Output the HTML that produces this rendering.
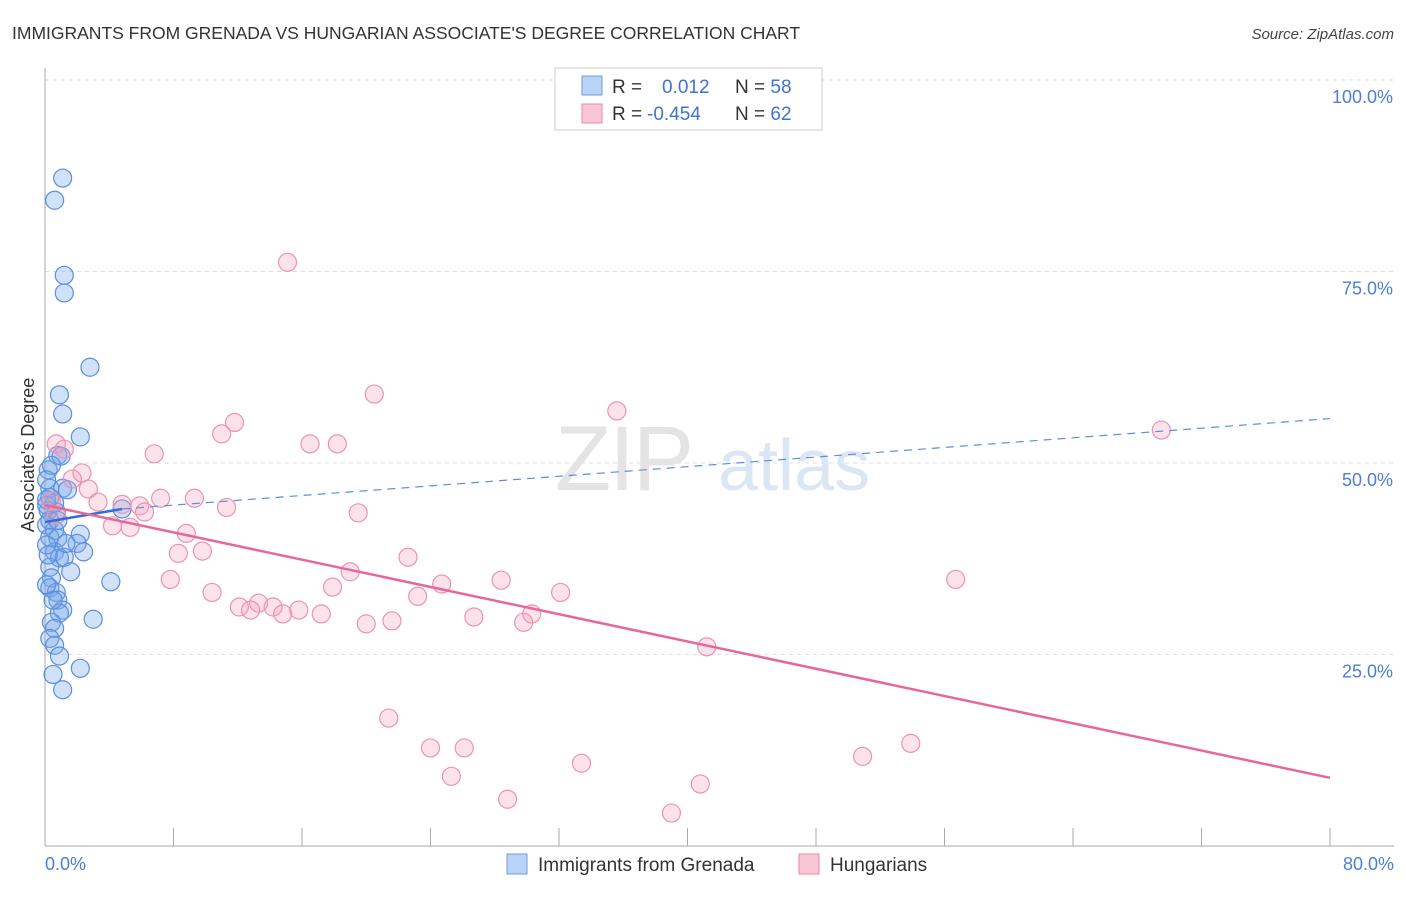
<!DOCTYPE html>
<html><head><meta charset="utf-8"><style>
body{margin:0;background:#fff;font-family:"Liberation Sans",sans-serif}
svg text{font-family:"Liberation Sans",sans-serif}
</style></head><body>
<svg id="c" width="1406" height="892" viewBox="0 0 1406 892">
<text x="12" y="39" font-size="17.5" fill="#333">IMMIGRANTS FROM GRENADA VS HUNGARIAN ASSOCIATE'S DEGREE CORRELATION CHART</text>
<text x="1394" y="39" font-size="15" fill="#444" font-style="italic" text-anchor="end">Source: ZipAtlas.com</text>
<g id="grid"></g>
<g><text x="555" y="490" font-size="92" fill="#e4e4e4" font-family="Liberation Serif" letter-spacing="-2">ZIP</text><text x="718" y="490" font-size="72" fill="#dbe6f4">atlas</text></g>
<line x1="45" y1="68" x2="45" y2="846" stroke="#aaa"/>
<line x1="45" y1="846" x2="1394" y2="846" stroke="#aaa"/>
<g id="ticks"></g>
<g id="ylabels"></g>
<text x="45" y="870" font-size="18" fill="#4a7fd4">0.0%</text>
<text x="1394" y="870" font-size="18" fill="#4a7fd4" text-anchor="end">80.0%</text>
<text transform="translate(34,455) rotate(-90)" font-size="18" fill="#333" text-anchor="middle">Associate's Degree</text>
<g id="pts"></g>
<g id="lines"></g>
<g>
<rect x="555" y="68" width="267" height="62" fill="#fff" stroke="#ccc"/>
<rect x="582" y="76" width="20" height="19" fill="#b9d3f5" stroke="#6a9be0"/>
<rect x="582" y="104" width="20" height="19" fill="#f9c6d5" stroke="#e88aa8"/>
<text x="612" y="93" font-size="19" fill="#333">R = <tspan x="662" fill="#3d74d0">0.012</tspan><tspan x="735">N = </tspan><tspan fill="#3d74d0">58</tspan></text>
<text x="612" y="120" font-size="19" fill="#333">R = <tspan x="647" fill="#3d74d0">-0.454</tspan><tspan x="735">N = </tspan><tspan fill="#3d74d0">62</tspan></text>
</g>
<g>
<rect x="507" y="854" width="20" height="20" fill="#b9d3f5" stroke="#6a9be0"/>
<text x="538" y="871" font-size="19" fill="#333">Immigrants from Grenada</text>
<rect x="799" y="854" width="20" height="20" fill="#f9c6d5" stroke="#e88aa8"/>
<text x="830" y="871" font-size="19" fill="#333">Hungarians</text>
</g>
</svg>
<script>
const yTicks=[25,50,75,100];
const yTickLabels=["25.0%","50.0%","75.0%","100.0%"];
const xTicks=[0,8,16,24,32,40,48,56,64,72,80];
const blueX=[1.1,0.6,1.2,1.2,2.8,0.9,1.1,2.2,0.8,1.0,0.2,0.3,1.1,1.4,0.3,0.6,0.2,0.7,4.8,0.3,0.1,0.6,0.3,0.8,2.2,2.0,0.6,2.4,0.9,1.2,0.3,1.6,0.4,4.1,0.3,0.7,0.8,1.1,0.9,3.0,0.4,0.6,0.3,0.6,0.9,2.2,0.5,1.1,0.1,0.1,0.4,0.1,0.2,0.5,0.1,0.8,1.3,0.1];
const blueY=[87.2,84.3,74.5,72.2,62.5,58.9,56.4,53.4,51.0,50.9,49.1,46.7,46.7,46.5,45.5,44.8,43.8,43.6,44.0,42.5,41.9,41.2,40.3,40.2,40.7,39.5,38.4,38.4,37.6,37.7,36.4,35.8,35.0,34.5,33.7,33.1,32.1,30.8,30.4,29.6,29.2,28.4,27.1,26.2,24.8,23.2,22.4,20.4,39.3,44.5,49.7,47.8,38.0,32.1,45.2,42.5,39.5,34.1];
const pinkX=[15.1,20.5,35.6,69.5,11.8,11.0,16.5,18.2,0.7,1.2,6.8,2.3,1.7,2.7,3.3,0.7,4.8,7.2,9.3,5.9,6.2,11.3,4.2,5.3,8.8,19.5,8.3,9.8,22.6,7.8,19.0,17.9,24.7,28.4,56.7,10.4,32.1,23.2,12.1,13.3,14.2,12.8,14.8,15.8,17.2,26.7,30.3,20.0,21.6,29.8,41.2,21.4,24.0,26.1,53.9,50.9,33.4,25.3,28.8,40.8,39.0,0.4];
const pinkY=[76.2,59.0,56.8,54.3,55.3,53.8,52.5,52.5,52.5,51.8,51.2,48.7,47.9,46.6,44.9,43.2,44.6,45.4,45.4,44.4,43.6,44.2,41.8,41.6,40.8,43.5,38.2,38.5,37.7,34.8,35.8,33.8,34.2,34.7,34.8,33.1,33.1,32.6,31.2,31.7,31.2,30.8,30.3,30.8,30.3,29.9,30.3,29.0,29.4,29.2,26.0,16.7,12.8,12.8,13.4,11.7,10.8,9.1,6.1,8.1,4.3,45.0];
const blueTrend=[[0,42.3],[4.8,44.0],[80,55.8]];
const pinkTrend=[[0,44.5],[80,8.9]];
const X=v=>45+v/80*1285, Y=v=>846-v/100*766;
const NS="http://www.w3.org/2000/svg";
function mk(t,a,p){const e=document.createElementNS(NS,t);for(const k in a)e.setAttribute(k,a[k]);document.getElementById(p).appendChild(e);return e;}
yTicks.forEach((t,i)=>{
 const l=mk('line',{x1:45,x2:1394,y1:Y(t),y2:Y(t),stroke:'#ddd','stroke-dasharray':'4,4'},'grid');
 
 
 const tx=mk('text',{x:1393,y:Y(t)+23,'font-size':18,fill:'#4a7fd4','text-anchor':'end'},'ylabels');
 tx.textContent=yTickLabels[i];
 
 
});
xTicks.forEach(t=>{
 const l=mk('line',{x1:X(t),x2:X(t),y1:828,y2:846,stroke:'#aaa'},'ticks');
 
 
});
blueX.forEach((v,i)=>{
 const c=mk('circle',{cx:X(v),cy:Y(blueY[i]),r:9,fill:'rgba(120,170,235,0.35)',stroke:'#5b8fdc','stroke-width':1.2},'pts');
 
 
});
pinkX.forEach((v,i)=>{
 const c=mk('circle',{cx:X(v),cy:Y(pinkY[i]),r:9,fill:'rgba(245,160,190,0.3)',stroke:'#ec93b0','stroke-width':1.2},'pts');
 
 
});
let b1=mk('line',{x1:X(blueTrend[0][0]),y1:Y(blueTrend[0][1]),x2:X(blueTrend[1][0]),y2:Y(blueTrend[1][1]),stroke:'#2f6fd6','stroke-width':2.5},'lines');


let b2=mk('line',{x1:X(blueTrend[1][0]),y1:Y(blueTrend[1][1]),x2:X(blueTrend[2][0]),y2:Y(blueTrend[2][1]),stroke:'#5b8fdc','stroke-width':1.2,'stroke-dasharray':'8,6'},'lines');


let p1=mk('line',{x1:X(pinkTrend[0][0]),y1:Y(pinkTrend[0][1]),x2:X(pinkTrend[1][0]),y2:Y(pinkTrend[1][1]),stroke:'#e8679a','stroke-width':2.5},'lines');


</script>
</body></html>
